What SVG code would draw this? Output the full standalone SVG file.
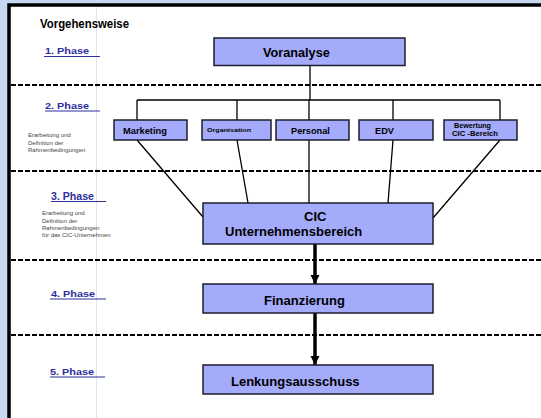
<svg xmlns="http://www.w3.org/2000/svg" width="541" height="418" viewBox="0 0 541 418">
<style>
.box{fill:#a3abfa;stroke:#1e1e2e;stroke-width:1.5}
.bt{font-family:"Liberation Sans",Arial,sans-serif;font-weight:bold;fill:#000}
.ph{font-family:"Liberation Sans",Arial,sans-serif;font-weight:bold;fill:#2e2e9e}
.ul{stroke:#2e2e9e;stroke-width:1}
.sm{font-family:"Liberation Sans",Arial,sans-serif;font-size:6px;fill:#444}
.dash{stroke:#000;stroke-width:2;stroke-dasharray:5 2;fill:none}
.con{stroke:#000;stroke-width:1.3;fill:none}
.thick{stroke:#000;stroke-width:3.5;fill:none}
</style>
<defs>
<marker id="ah" viewBox="0 0 10 10" refX="10" refY="5" markerWidth="2.6" markerHeight="2.6" orient="auto" markerUnits="strokeWidth">
<path d="M0,0 L10,5 L0,10 z" fill="#000"/>
</marker>
</defs>
<rect x="0" y="0" width="541" height="418" fill="#c6d9f0"/>
<rect x="11" y="6" width="530" height="412" fill="#fff"/>
<path d="M9,418 V5 H541" fill="none" stroke="#000" stroke-width="3.5"/>
<line x1="96.5" y1="7" x2="96.5" y2="418" stroke="#dce6f3" stroke-width="1"/>

<g id="separators">
<line class="dash" x1="11" y1="85" x2="541" y2="85"/>
<line class="dash" x1="11" y1="171" x2="541" y2="171"/>
<line class="dash" x1="11" y1="260" x2="541" y2="260"/>
<line class="dash" x1="11" y1="335" x2="541" y2="335"/>
</g>

<g id="labels">
<text x="40" y="28" class="bt" font-size="12" textLength="89" lengthAdjust="spacingAndGlyphs">Vorgehensweise</text>
<text x="45" y="54" class="ph" font-size="8.5" textLength="44" lengthAdjust="spacingAndGlyphs">1. Phase</text>
<line class="ul" x1="44" y1="56.5" x2="100" y2="56.5"/>
<text x="45" y="109" class="ph" font-size="8.5" textLength="44" lengthAdjust="spacingAndGlyphs">2. Phase</text>
<line class="ul" x1="45" y1="111" x2="100" y2="111"/>
<text x="51" y="200" class="ph" font-size="10.5" textLength="43" lengthAdjust="spacingAndGlyphs">3. Phase</text>
<line class="ul" x1="51" y1="201.5" x2="106" y2="201.5"/>
<text x="51" y="297" class="ph" font-size="8.5" textLength="44" lengthAdjust="spacingAndGlyphs">4. Phase</text>
<line class="ul" x1="50" y1="299" x2="106" y2="299"/>
<text x="50" y="375" class="ph" font-size="8.5" textLength="44" lengthAdjust="spacingAndGlyphs">5. Phase</text>
<line class="ul" x1="50" y1="377" x2="105" y2="377"/>
<text class="sm" x="28" y="137">Erarbeitung und</text>
<text class="sm" x="28" y="144.5">Definition der</text>
<text class="sm" x="28" y="152">Rahmenbedingungen</text>
<text class="sm" x="42" y="215">Erarbeitung und</text>
<text class="sm" x="42" y="223">Definition der</text>
<text class="sm" x="42" y="230">Rahmenbedingungen</text>
<text class="sm" x="42" y="236.5">für das CIC-Unternehmen</text>
</g>

<g id="connectors">
<line class="con" x1="310" y1="66" x2="310" y2="100"/>
<line class="con" x1="137" y1="100" x2="500" y2="100"/>
<line class="con" x1="137" y1="100" x2="137" y2="120"/>
<line class="con" x1="237" y1="100" x2="237" y2="120"/>
<line class="con" x1="309" y1="100" x2="309" y2="120"/>
<line class="con" x1="393" y1="100" x2="393" y2="120"/>
<line class="con" x1="500" y1="100" x2="500" y2="120"/>
<line class="con" x1="137" y1="140" x2="203" y2="217"/>
<line class="con" x1="237" y1="140" x2="248" y2="203"/>
<line class="con" x1="309" y1="140" x2="309" y2="203"/>
<line class="con" x1="393" y1="140" x2="388" y2="203"/>
<line class="con" x1="500" y1="140" x2="433" y2="218"/>
<line class="thick" x1="315" y1="244" x2="315" y2="284" marker-end="url(#ah)"/>
<line class="thick" x1="315" y1="313" x2="315" y2="365" marker-end="url(#ah)"/>
</g>

<g id="voranalyse">
<rect class="box" x="214" y="38" width="191" height="27.5"/>
<text class="bt" x="263" y="56.5" font-size="12.7">Voranalyse</text>
</g>
<g id="marketing">
<rect class="box" x="114" y="120" width="73" height="20"/>
<text class="bt" x="123" y="134" font-size="9.3">Marketing</text>
</g>
<g id="organisation">
<rect class="box" x="202" y="120" width="69" height="20"/>
<text class="bt" x="207" y="132" font-size="6.2" textLength="44" lengthAdjust="spacingAndGlyphs">Organisation</text>
</g>
<g id="personal">
<rect class="box" x="276" y="120" width="73" height="20"/>
<text class="bt" x="291" y="134" font-size="9.2">Personal</text>
</g>
<g id="edv">
<rect class="box" x="359" y="120" width="74" height="20"/>
<text class="bt" x="375" y="134" font-size="9.2">EDV</text>
</g>
<g id="bewertung">
<rect class="box" x="444" y="120" width="73" height="20"/>
<text class="bt" x="454" y="128" font-size="7" textLength="37" lengthAdjust="spacingAndGlyphs">Bewertung</text>
<text class="bt" x="452" y="136" font-size="7" textLength="46" lengthAdjust="spacingAndGlyphs">CIC  -Bereich</text>
</g>
<g id="cic">
<rect class="box" x="203" y="203" width="230" height="41"/>
<text class="bt" x="304" y="221" font-size="13">CIC</text>
<text class="bt" x="225" y="235.5" font-size="13">Unternehmensbereich</text>
</g>
<g id="finanzierung">
<rect class="box" x="203" y="284" width="230" height="29"/>
<text class="bt" x="264" y="304.5" font-size="13">Finanzierung</text>
</g>
<g id="lenkungsausschuss">
<rect class="box" x="203" y="365" width="230" height="29"/>
<text class="bt" x="231" y="385.5" font-size="13">Lenkungsausschuss</text>
</g>
</svg>
